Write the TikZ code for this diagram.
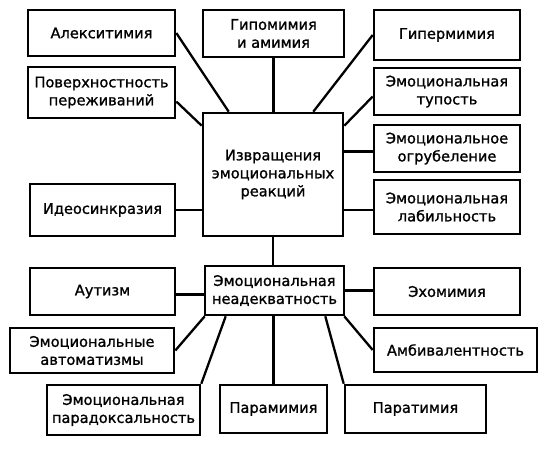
\documentclass[tikz,border=0pt]{standalone}
\usepackage{fontspec}
\setmainfont{DejaVu Sans}[FakeBold=1.2]
\begin{document}
\begin{tikzpicture}[x=1pt,y=-1pt,
  box/.style={draw, line width=2.6pt, align=center, inner sep=0pt,
    font=\fontsize{14.6}{18}\selectfont},
  conn/.style={line width=2.3pt}]
\useasboundingbox (0,0) rectangle (544,450);
\newcommand{\bx}[6]{\node[box, minimum width=#4-#2, minimum height=#5-#3] (#1) at ({(#2+#4)/2},{(#3+#5)/2}) {#6};}
\bx{alex}{28}{10}{175}{56}{Алекситимия}
\bx{gipo}{203}{10}{344}{57}{Гипомимия\\и амимия}
\bx{giper}{374}{10}{520}{60}{Гипермимия}
\bx{pov}{28}{67}{175}{118}{Поверхностность\\переживаний}
\bx{tup}{374}{68}{520}{115}{Эмоциональная\\тупость}
\bx{central}{203}{113}{343}{236}{Извращения\\эмоциональных\\реакций}
\bx{ogr}{374}{125}{520}{172}{Эмоциональное\\огрубеление}
\bx{lab}{374}{180}{520}{234}{Эмоциональная\\лабильность}
\bx{ideo}{30}{184}{175}{236}{Идеосинкразия}
\bx{aut}{30}{268}{175}{315}{Аутизм}
\bx{nead}{205}{266}{344}{315}{Эмоциональная\\неадекватность}
\bx{eho}{374}{268}{520}{315}{Эхомимия}
\bx{avto}{10}{328}{174}{373}{Эмоциональные\\автоматизмы}
\bx{amb}{374}{328}{537}{372}{Амбивалентность}
\bx{parad}{47}{385}{200}{435}{Эмоциональная\\парадоксальность}
\bx{pmim}{220}{385}{327}{433}{Парамимия}
\bx{parat}{345}{385}{486}{433}{Паратимия}
% connectors
\draw[conn] (alex.east) -- ([xshift=27pt]central.north west);
\draw[conn] ([yshift=-9pt]pov.east) -- ([yshift=-14pt]central.north west);
\draw[conn] (gipo.south) -- (gipo.south |- central.north);
\draw[conn] (giper.west) -- ([xshift=-31pt]central.north east);
\draw[conn] ([yshift=-5pt]tup.west) -- ([yshift=-14pt]central.north east);
\draw[conn] ([yshift=-3pt]ogr.west) -- ([yshift=-3pt]ogr.west -| central.east);
\draw[conn] ([yshift=-3pt]lab.west) -- ([yshift=-3pt]lab.west -| central.east);
\draw[conn] (ideo.east) -- (ideo.east -| central.west);
\draw[conn] (central.south) -- (central.south |- nead.north);
\draw[conn] ([yshift=-3pt]aut.east) -- ([yshift=-3pt]aut.east -| nead.west);
\draw[conn] ([yshift=1pt]eho.west) -- ([yshift=1pt]eho.west -| nead.east);
\draw[conn] (avto.east) -- ([xshift=1pt]nead.south west);
\draw[conn] (parad.north east) -- ([xshift=22pt]nead.south west);
\draw[conn] (pmim.north) -- (pmim.north |- nead.south);
\draw[conn] ([xshift=-1pt]nead.south east) -- (amb.west);
\draw[conn] ([xshift=-20pt]nead.south east) -- (parat.north west);
\end{tikzpicture}
\end{document}
